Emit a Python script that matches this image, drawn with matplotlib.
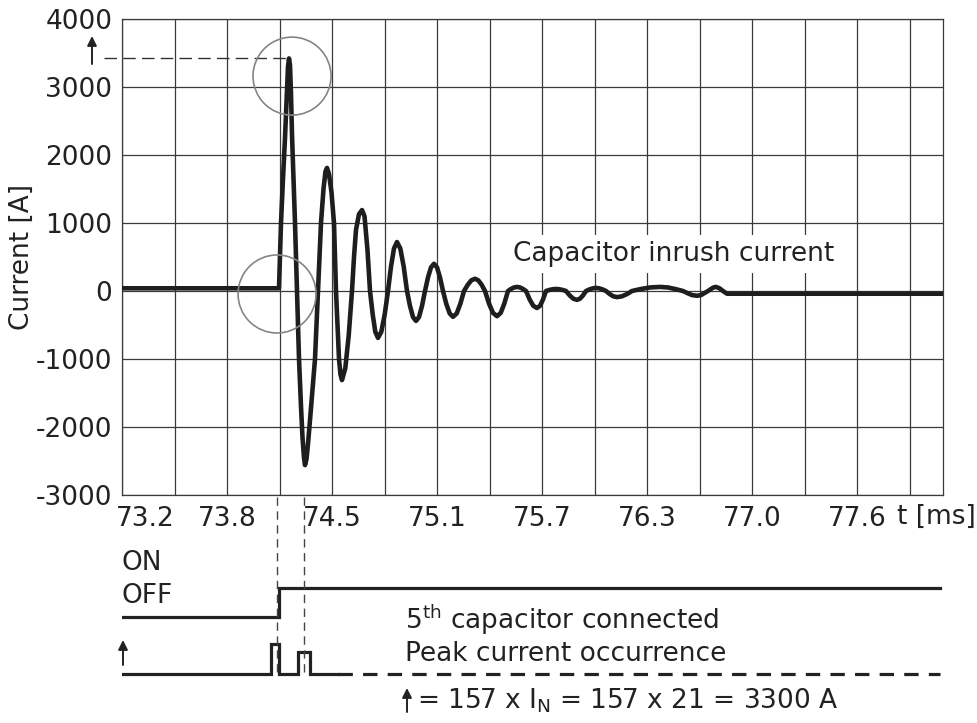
import numpy as np
import matplotlib
matplotlib.use("Agg")
import matplotlib.pyplot as plt
from matplotlib.patches import Ellipse, FancyArrowPatch
from matplotlib.transforms import ScaledTranslation

plt.rcParams['font.family'] = ['DejaVu Sans']
plt.rcParams['mathtext.default'] = 'regular'

# ---------------- data ----------------
t_ms = [73.2000, 74.1345, 74.1405, 74.1464, 74.1583, 74.1702, 74.1821, 74.1881,
        74.1940, 74.2000, 74.2060, 74.2119, 74.2298, 74.2417, 74.2536, 74.2655,
        74.2744, 74.2833, 74.2893, 74.2982, 74.3071, 74.3190, 74.3488, 74.3667,
        74.3845, 74.3994, 74.4113, 74.4202, 74.4321, 74.4470, 74.4619, 74.4738,
        74.4917, 74.5006, 74.5095, 74.5292, 74.5494, 74.5690, 74.5810, 74.5929,
        74.6107, 74.6286, 74.6435, 74.6613, 74.6762, 74.6923, 74.7077, 74.7238,
        74.7435, 74.7637, 74.7833, 74.8012, 74.8190, 74.8369, 74.8565, 74.8768,
        74.8964, 74.9143, 74.9321, 74.9500, 74.9679, 74.9857, 75.0036, 75.0214,
        75.0393, 75.0571, 75.0750, 75.0929, 75.1107, 75.1304, 75.1506, 75.1702,
        75.1923, 75.2137, 75.2357, 75.2577, 75.2792, 75.3012, 75.3208, 75.3411,
        75.3607, 75.3845, 75.4083, 75.4321, 75.4542, 75.4756, 75.4976, 75.5155,
        75.5333, 75.5512, 75.5690, 75.5869, 75.6048, 75.6268, 75.6482, 75.6702,
        75.6881, 75.7060, 75.7238, 75.7435, 75.7637, 75.7833, 75.8030, 75.8232,
        75.8429, 75.8649, 75.8863, 75.9083, 75.9262, 75.9440, 75.9619, 75.9815,
        76.0018, 76.0214, 76.0411, 76.0613, 76.0810, 76.1030, 76.1244, 76.1464,
        76.1762, 76.2060, 76.2357, 76.2893, 76.3429, 76.4024, 76.4500, 76.4917,
        76.5393, 76.5690, 76.5929, 76.6226, 76.6464, 76.6643, 76.6881, 76.7060,
        76.7208, 76.7357, 76.7565, 76.7774, 76.8012, 78.0869]
current_a = [40, 40, 500, 1000, 1650, 2250, 2950, 3300,
             3420, 3320, 2900, 2300, 1000, 0, -1000, -1700,
             -2150, -2450, -2560, -2470, -2250, -1900, -1000, 0,
             1000, 1500, 1760, 1810, 1720, 1450, 1000, 0,
             -1000, -1230, -1310, -1135, -655, 0, 500, 900,
             1130, 1190, 1100, 600, 0, -345, -600, -690,
             -600, -345, 0, 360, 626, 720, 626, 360,
             0, -220, -383, -440, -383, -220, 0, 200,
             348, 400, 348, 200, 0, -190, -330, -380,
             -330, -190, 0, 90, 157, 180, 157, 90,
             0, -185, -322, -370, -322, -185, 0, 30,
             52, 60, 52, 30, 0, -125, -218, -250,
             -218, -125, 0, 15, 26, 30, 26, 15,
             0, -65, -113, -130, -113, -65, 0, 22,
             39, 45, 39, 22, 0, -45, -78, -90,
             -78, -45, 0, 30, 52, 60, 52, 30,
             0, -35, -60, -70, -60, -35, 0, 30,
             52, 60, 40, 0, -40, -40]

x_tick_labels = ["73.2", "73.8", "74.5", "75.1", "75.7", "76.3", "77.0", "77.6"]
y_ticks = [-3000, -2000, -1000, 0, 1000, 2000, 3000, 4000]
peak_current_a = 3420
peak_time_ms = 74.1940

switch_on_ms = 74.1345
trace_end_ms = 78.07
pulse_start_ms = [74.087, 74.248]
pulse_end_ms = [74.135, 74.319]
pulse_rel_height = [1.0, 0.73]
pulse_solid_end_ms = 74.486
marker_ms = [74.122, 74.283]

circle_centers = [(74.212, 3160), (74.123, -44)]

# ---------------- layout ----------------
W, H = 978, 723
fig = plt.figure(figsize=(W / 100, H / 100), dpi=100)
L, R, T, B = 122, 943, 19, 495
ax = fig.add_axes([L / W, 1 - B / H, (R - L) / W, (B - T) / H])

ms_per_px = 1 / 168
x_max = 73.2 + (R - L) * ms_per_px
a_per_px = 1000 / 68.0
fs = 19
tcol = '#222222'
gcol = '#3a3a3a'

ax.set_xlim(73.2, x_max)
ax.set_ylim(-3000, 4000)
ax.set_yticks(y_ticks)
ax.set_yticklabels([str(v) for v in y_ticks])
major_x = [73.2 + i * 0.625 for i in range(len(x_tick_labels))]
ax.set_xticks(major_x)
ax.set_xticklabels(x_tick_labels)
minor_x = [73.2 + i * 0.3125 for i in range(16)]
ax.set_xticks(minor_x, minor=True)
ax.tick_params(axis='both', which='both', length=0, labelsize=fs, colors=tcol)
ax.tick_params(axis='x', pad=8)
ax.tick_params(axis='y', pad=7)
ax.grid(True, which='both', color=gcol, lw=0.9)
ax.set_axisbelow(True)
for sp in ax.spines.values():
    sp.set_color(gcol)
    sp.set_linewidth(0.9)

# shift first x label to the right (it sits clear of the frame in the reference)
lbl0 = ax.get_xticklabels()[0]
lbl0.set_transform(lbl0.get_transform() + ScaledTranslation(0.23, 0, fig.dpi_scale_trans))

ax.plot(t_ms, current_a, color='#1e1e1e', lw=3.3, solid_joinstyle='round',
        solid_capstyle='round', zorder=5)

for (cx, cy) in circle_centers:
    e = Ellipse((cx, cy), width=78 * ms_per_px, height=78 * a_per_px, fill=False,
                edgecolor='#858585', lw=1.2, zorder=6, clip_on=False)
    ax.add_patch(e)

# peak dashed line
ax.plot([73.2 - 18 * ms_per_px, peak_time_ms], [peak_current_a, peak_current_a],
        color='#333333', lw=1.0, ls=(0, (9, 4.5)), clip_on=False, zorder=4)

fig.text(513 / W, 1 - 254 / H, 'Capacitor inrush current', fontsize=fs, color=tcol,
         va='center', ha='left',
         bbox=dict(facecolor='white', edgecolor='none', pad=4))

fig.text(22 / W, 1 - 257 / H, 'Current [A]', rotation=90, va='center', ha='center',
         fontsize=fs, color=tcol)
fig.text(897 / W, 1 - 517 / H, 't [ms]', va='center', ha='left', fontsize=fs, color=tcol)

# ---------------- signal section ----------------
ax2 = fig.add_axes([L / W, 0, (R - L) / W, 1 - B / H])
ax2.set_xlim(73.2, x_max)
ax2.set_ylim(H, B)
ax2.axis('off')

off_y, on_y = 617, 588
ax2.plot([73.2, switch_on_ms, switch_on_ms, trace_end_ms], [off_y, off_y, on_y, on_y],
         color=tcol, lw=2.3, solid_joinstyle='miter')

base_y, pulse_px = 674, 30
px = [73.2]
py = [base_y]
for s, e, h in zip(pulse_start_ms, pulse_end_ms, pulse_rel_height):
    top = base_y - pulse_px * h
    px += [s, s, e, e]
    py += [base_y, top, top, base_y]
px.append(pulse_solid_end_ms)
py.append(base_y)
ax2.plot(px, py, color=tcol, lw=2.3, solid_joinstyle='miter')
ax2.plot([pulse_solid_end_ms, trace_end_ms], [base_y, base_y], color=tcol, lw=2.3,
         ls=(0, (4.5, 3.2)))

for m in marker_ms:
    ax2.plot([m, m], [B + 2, base_y], color='#444444', lw=1.0, ls=(0, (6, 4)))

fig.text(122 / W, 1 - 563 / H, 'ON', va='center', ha='left', fontsize=fs, color=tcol)
fig.text(122 / W, 1 - 596 / H, 'OFF', va='center', ha='left', fontsize=fs, color=tcol)
fig.text(405 / W, 1 - 620 / H, '5$^{th}$ capacitor connected', va='center', ha='left',
         fontsize=fs, color=tcol)
fig.text(405 / W, 1 - 654 / H, 'Peak current occurrence', va='center', ha='left',
         fontsize=fs, color=tcol)
fig.text(417 / W, 1 - 701 / H, '= 157 x I$_N$ = 157 x 21 = 3300 A', va='center', ha='left',
         fontsize=fs, color=tcol)

# small up-arrows (peak marker, pulse axis, formula)
for ax_x, y0, y1 in [(92, 64, 36), (123, 665, 640), (407, 712, 688)]:
    fig.add_artist(FancyArrowPatch(
        (ax_x, H - y0), (ax_x, H - y1), transform=None,
        arrowstyle='-|>', mutation_scale=14, lw=1.4, color=tcol, shrinkA=0, shrinkB=0))

fig.savefig('out.png', dpi=100)
